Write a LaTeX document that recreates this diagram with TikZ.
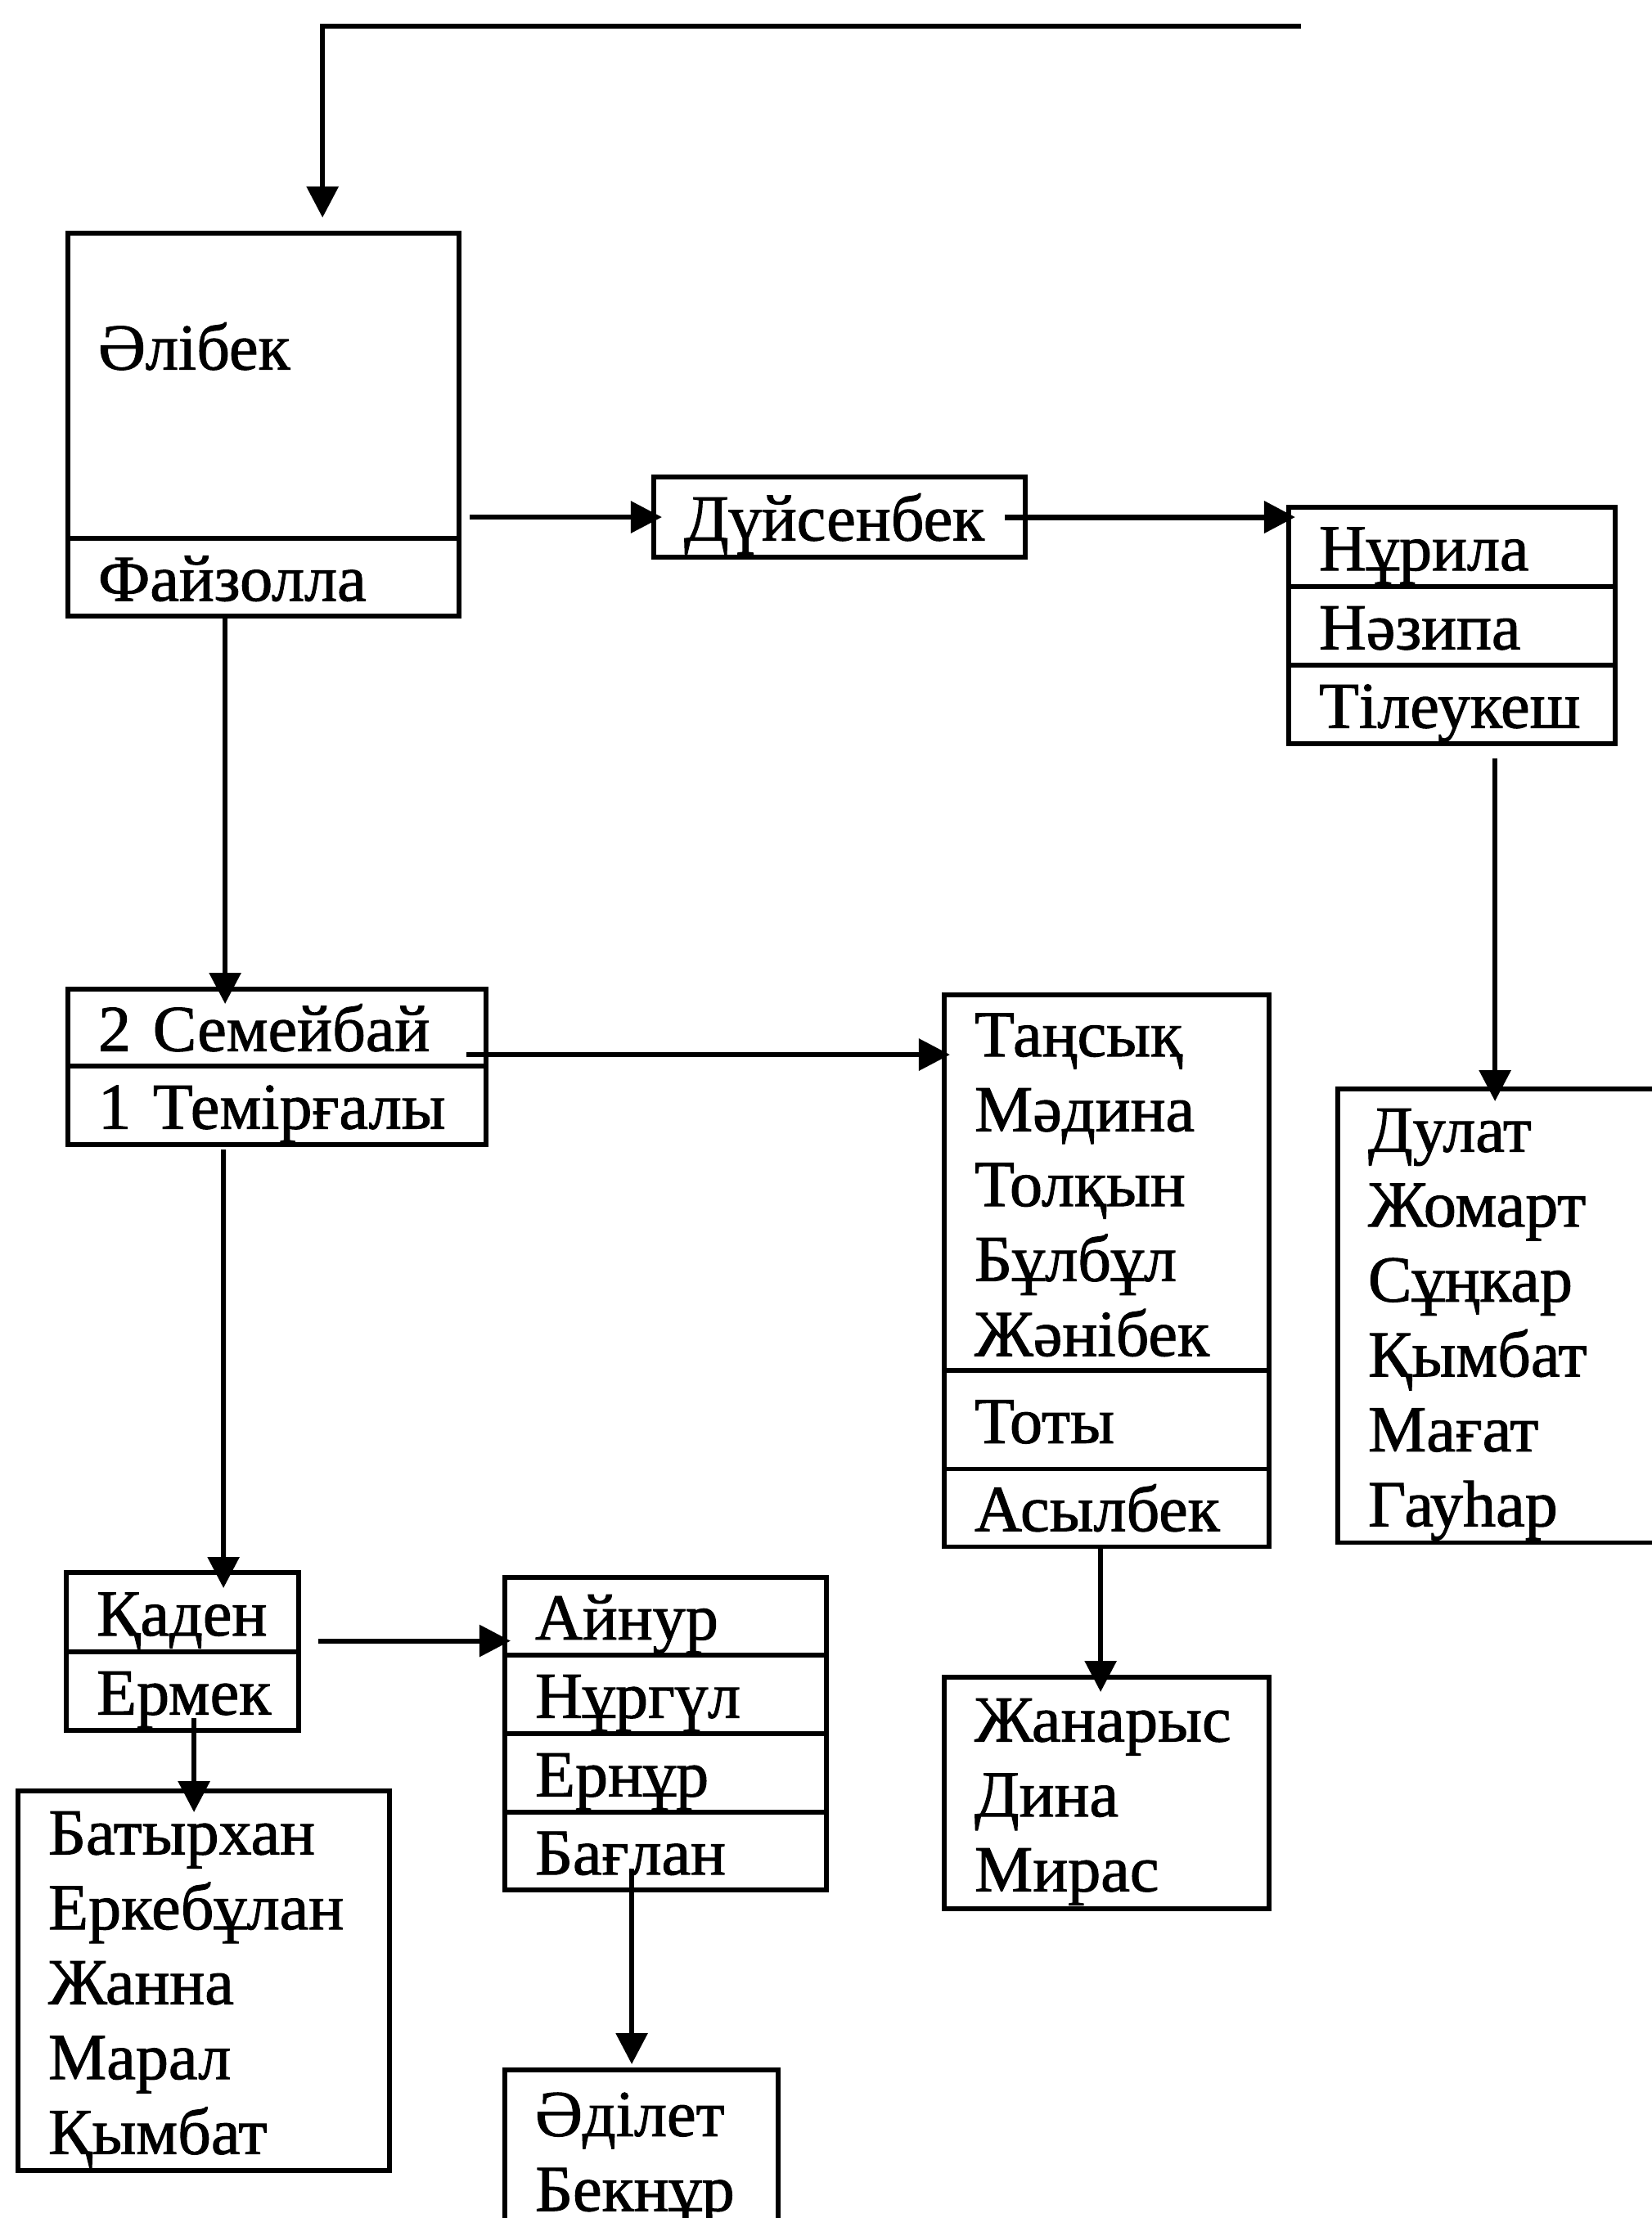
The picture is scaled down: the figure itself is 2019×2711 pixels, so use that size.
\documentclass[tikz,border=0pt]{standalone}
\usepackage{fontspec}
\setmainfont{Liberation Serif}[FakeBold=1.2]
\usetikzlibrary{arrows.meta, positioning}
\newcommand\cellstrut{\rule[-0.17cm]{0pt}{0.91cm}}

\begin{document}
\begin{tikzpicture}[x=0.01cm, y=-0.01cm, >={Triangle[length=0.38cm, width=0.38cm]},
    font=\fontsize{22.8pt}{0.915cm}\selectfont,
    cell/.style={draw, line width=1.6pt, anchor=north west, outer sep=0pt, inner xsep=0.37cm, inner ysep=0pt,
      align=left, execute at begin node=\cellstrut, execute at end node=\cellstrut},
    link/.style={->, line width=1.7pt}]
  \useasboundingbox (0,0) rectangle (2019,2711);
  \clip (0,0) rectangle (2019,2711);

  \node[cell, text width=4.04cm, minimum height=3.73cm, text depth=1.14cm] (alibek) at (83,285) {Әлібек};
  \node[cell, text width=4.04cm, minimum height=0.95cm, below=0pt of alibek] (faiz) {Файзолла};

  \node[cell, text width=3.80cm, minimum height=0.98cm] (duisen) at (799,583) {Дүйсенбек};

  \node[cell, text width=3.25cm, minimum height=0.97cm] (nurila) at (1575,620) {Нұрила};
  \node[cell, text width=3.25cm, minimum height=0.96cm, below=0pt of nurila] (nazipa) {Нәзипа};
  \node[cell, text width=3.25cm, minimum height=0.96cm, below=0pt of nazipa] (tileu) {Тілеукеш};

  \node[cell, text width=3.46cm, minimum height=5.54cm] (dulat) at (1635,1331)
    {Дулат\\Жомарт\\Сұңкар\\Қымбат\\Мағат\\Гауһар};

  \node[cell, text width=4.37cm, minimum height=0.94cm] (sem) at (83,1209) {2 Семейбай};
  \node[cell, text width=4.37cm, minimum height=0.96cm, below=0pt of sem] (temir) {1 Темірғалы};

  \node[cell, text width=3.23cm, minimum height=4.59cm] (tansyq) at (1154,1216)
    {Таңсық\\Мәдина\\Толқын\\Бұлбұл\\Жәнібек};
  \node[cell, text width=3.23cm, minimum height=1.20cm, below=0pt of tansyq] (toty) {Тоты};
  \node[cell, text width=3.23cm, minimum height=0.95cm, below=0pt of toty] (asyl) {Асылбек};

  \node[cell, text width=3.23cm, minimum height=2.83cm] (zhanar) at (1154,2050) {Жанарыс\\Дина\\Мирас};

  \node[cell, text width=2.10cm, minimum height=0.97cm] (kaden) at (81,1922) {Қаден};
  \node[cell, text width=2.10cm, minimum height=0.96cm, below=0pt of kaden] (ermek) {Ермек};

  \node[cell, text width=3.19cm, minimum height=0.95cm] (ainur) at (617,1928) {Айнур};
  \node[cell, text width=3.19cm, minimum height=0.96cm, below=0pt of ainur] (nurgul) {Нұргүл};
  \node[cell, text width=3.19cm, minimum height=0.96cm, below=0pt of nurgul] (ernur) {Ернұр};
  \node[cell, text width=3.19cm, minimum height=0.95cm, below=0pt of ernur] (baglan) {Бағлан};

  \node[cell, text width=3.80cm, minimum height=4.64cm] (batyr) at (22,2189)
    {Батырхан\\Еркебұлан\\Жанна\\Марал\\Қымбат};

  \node[cell, text width=2.60cm, minimum height=1.96cm] (adilet) at (617,2530) {Әділет\\Бекнұр};

  % connectors
  \coordinate (loop) at (1590,32);
  \draw[link] (loop) -| ([xshift=3.11cm, yshift=0.19cm]alibek.north west);
  \draw[link, shorten <=0.13cm, shorten >=-0.1cm] (alibek.east |- duisen.west) -- (duisen.west);
  \draw[link, line width=2pt, shorten <=-0.25cm, shorten >=-0.08cm] (duisen.east) -- (duisen.east -| nurila.west);

  \coordinate (t1) at ([xshift=2.52cm, yshift=-0.18cm]tileu.south west);
  \draw[link, shorten >=-0.15cm] (t1) -- (t1 |- dulat.north);

  \draw[link, shorten >=-0.18cm] ([xshift=1.92cm]faiz.south west) -- ([xshift=1.92cm]sem.north west);

  \coordinate (s1) at ([xshift=-0.24cm, yshift=-0.33cm]sem.east);
  \draw[link, shorten >=-0.07cm] (s1) -- (s1 -| tansyq.west);

  \draw[link, shorten <=0.06cm, shorten >=-0.19cm] ([xshift=1.90cm]temir.south west) -- ([xshift=1.92cm]kaden.north west);

  \coordinate (k1) at ([xshift=0.24cm, yshift=-0.35cm]kaden.east);
  \draw[link, shorten >=-0.07cm] (k1) -- (k1 -| ainur.west);

  \coordinate (e1) at ([xshift=1.56cm, yshift=0.15cm]ermek.south west);
  \draw[link, shorten >=-0.26cm] (e1) -- (e1 |- batyr.north);

  \draw[link, shorten >=-0.18cm] ([xshift=1.91cm]asyl.south west) -- ([xshift=1.91cm]zhanar.north west);

  \coordinate (b1) at ([xshift=1.55cm, yshift=0.26cm]baglan.south west);
  \draw[link, shorten >=0.07cm] (b1) -- (b1 |- adilet.north);
\end{tikzpicture}
\end{document}
